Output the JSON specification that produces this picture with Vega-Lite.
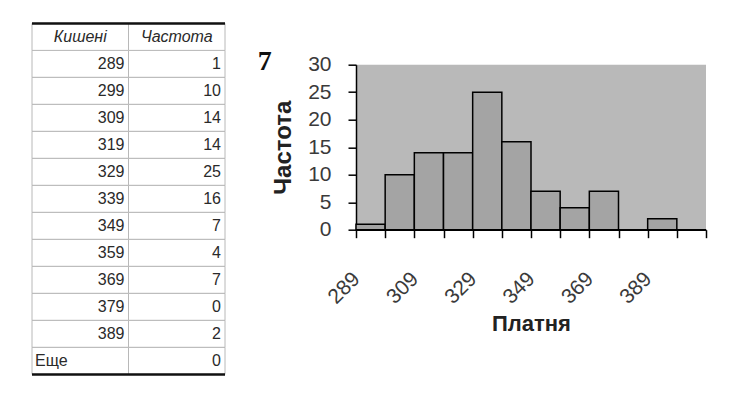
{
  "$schema": "https://vega.github.io/schema/vega-lite/v6.json",
  "background": "white",
  "padding": {"left": 30, "top": 22, "right": 5, "bottom": 5},
  "spacing": 30,
  "center": true,
  "datasets": {
    "hist": [
      {"Кишені": "289", "Частота": 1},
      {"Кишені": "299", "Частота": 10},
      {"Кишені": "309", "Частота": 14},
      {"Кишені": "319", "Частота": 14},
      {"Кишені": "329", "Частота": 25},
      {"Кишені": "339", "Частота": 16},
      {"Кишені": "349", "Частота": 7},
      {"Кишені": "359", "Частота": 4},
      {"Кишені": "369", "Частота": 7},
      {"Кишені": "379", "Частота": 0},
      {"Кишені": "389", "Частота": 2},
      {"Кишені": "Еще", "Частота": 0}
    ],
    "header": [
      {"col": "Кишені", "Кишені": "header"},
      {"col": "Частота", "Кишені": "header"}
    ]
  },
  "hconcat": [
    {
      "width": 193,
      "height": 351,
      "view": {"stroke": null},
      "encoding": {
        "x": {"field": "col", "type": "nominal", "sort": ["Кишені", "Частота"],
          "scale": {"domain": ["Кишені", "Частота"], "paddingInner": 0, "paddingOuter": 0}, "axis": null},
        "y": {"field": "Кишені", "type": "nominal",
          "scale": {"domain": ["header", "289", "299", "309", "319", "329", "339", "349", "359", "369", "379", "389", "Еще"], "paddingInner": 0, "paddingOuter": 0}, "axis": null}
      },
      "layer": [
        {
          "data": {"name": "hist"},
          "transform": [{"fold": ["Кишені", "Частота"], "as": ["col", "val"]}],
          "mark": {"type": "rect", "fill": "white", "stroke": "#b8b8b8", "strokeWidth": 1}
        },
        {
          "data": {"name": "hist"},
          "transform": [{"fold": ["Кишені", "Частота"], "as": ["col", "val"]}, {"filter": "datum.val != 'Еще'"}],
          "mark": {"type": "text", "align": "right", "dx": -4, "font": "Liberation Sans", "fontSize": 16, "color": "#2a2a2a"},
          "encoding": {
            "x": {"field": "col", "type": "nominal", "bandPosition": 1},
            "text": {"field": "val", "type": "nominal"}
          }
        },
        {
          "data": {"name": "hist"},
          "transform": [{"fold": ["Кишені", "Частота"], "as": ["col", "val"]}, {"filter": "datum.val == 'Еще'"}],
          "mark": {"type": "text", "align": "left", "dx": 3, "font": "Liberation Sans", "fontSize": 16, "color": "#2a2a2a"},
          "encoding": {
            "x": {"field": "col", "type": "nominal", "bandPosition": 0},
            "text": {"field": "val", "type": "nominal"}
          }
        },
        {
          "data": {"name": "header"},
          "mark": {"type": "rect", "fill": "white", "stroke": "#b8b8b8", "strokeWidth": 1}
        },
        {
          "data": {"name": "header"},
          "mark": {"type": "text", "align": "center", "font": "Liberation Sans", "fontSize": 16, "fontStyle": "italic", "color": "#2a2a2a"},
          "encoding": {"text": {"field": "col", "type": "nominal"}}
        },
        {
          "data": {"name": "header"},
          "transform": [{"filter": "datum.col == 'Кишені'"}],
          "mark": {"type": "rule", "color": "#111", "strokeWidth": 2.5},
          "encoding": {"x": null, "y": {"field": "Кишені", "type": "nominal", "bandPosition": 0}}
        },
        {
          "data": {"values": [{"Кишені": "Еще"}]},
          "mark": {"type": "rule", "color": "#111", "strokeWidth": 2.5},
          "encoding": {"x": null, "y": {"field": "Кишені", "type": "nominal", "bandPosition": 1}}
        }
      ]
    },
    {
      "data": {"name": "hist"},
      "width": 350,
      "height": 165,
      "title": {"text": "7", "orient": "left", "anchor": "end", "angle": 0, "frame": "group", "font": "Liberation Serif", "fontSize": 28, "fontWeight": "bold", "color": "#111", "offset": -14, "baseline": "top", "dy": -17},
      "view": {"fill": "#b9b9b9", "stroke": null},
      "mark": {"type": "bar", "fill": "#a4a4a4", "stroke": "black", "strokeWidth": 1.5},
      "encoding": {
        "x": {"field": "Кишені", "type": "ordinal", "sort": null,
          "scale": {"paddingInner": 0, "paddingOuter": 0},
          "axis": {"title": "Платня", "labelAngle": -45, "tickBand": "extent",
            "labelExpr": "indexof(['289','309','329','349','369','389'], datum.label) >= 0 ? datum.label : ''",
            "labelFontSize": 21, "labelFont": "Liberation Sans", "labelColor": "#3a3a3a", "labelPadding": 30, "labelOffset": -22,
            "titleFont": "Liberation Sans", "titleFontSize": 22, "titleFontWeight": "bold", "titleColor": "#222", "titlePadding": 6,
            "domainColor": "black", "domainWidth": 1.5, "tickColor": "black", "tickWidth": 1.5, "tickSize": 8}},
        "y": {"field": "Частота", "type": "quantitative", "scale": {"domain": [0, 30]},
          "axis": {"values": [0, 5, 10, 15, 20, 25, 30], "grid": false, "title": "Частота",
            "labelFontSize": 21, "labelFont": "Liberation Sans", "labelColor": "#3a3a3a", "labelPadding": 17,
            "titleFont": "Liberation Sans", "titleFontSize": 24, "titleFontWeight": "bold", "titleColor": "#222", "titlePadding": 12,
            "domainColor": "black", "domainWidth": 1.5, "tickColor": "black", "tickWidth": 1.5, "tickSize": 8}}
      }
    }
  ]
}
